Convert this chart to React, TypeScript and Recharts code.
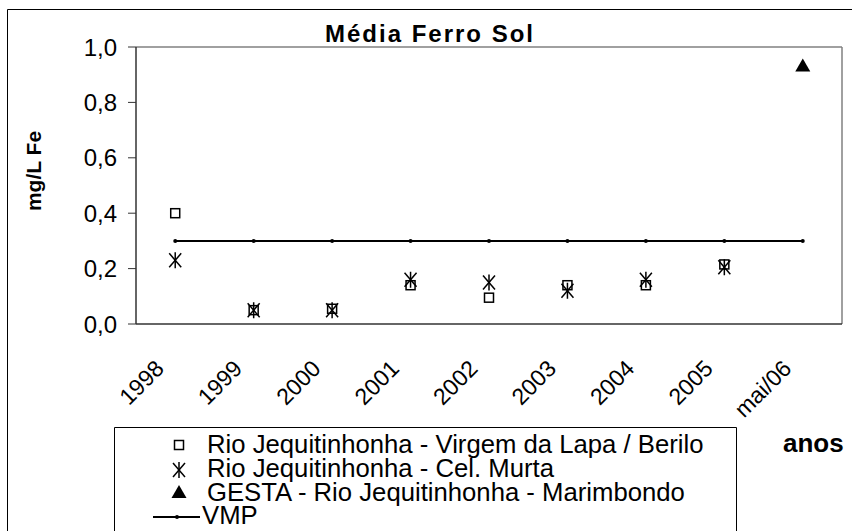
import React from 'react';
import { ComposedChart, XAxis, YAxis, Scatter, Line, Legend, ReferenceLine } from 'recharts';

const categories = ['1998', '1999', '2000', '2001', '2002', '2003', '2004', '2005', 'mai/06'];
const virgemLapa: (number | null)[] = [0.40, 0.05, 0.055, 0.14, 0.095, 0.14, 0.14, 0.215, null];
const celMurta: (number | null)[] = [0.23, 0.05, 0.05, 0.16, 0.15, 0.12, 0.16, 0.205, null];
const gesta: (number | null)[] = [null, null, null, null, null, null, null, null, 0.93];
const vmp: number[] = [0.3, 0.3, 0.3, 0.3, 0.3, 0.3, 0.3, 0.3, 0.3];
const yTicks = [0, 0.2, 0.4, 0.6, 0.8, 1.0];
const seriesNames = [
  'Rio Jequitinhonha - Virgem da Lapa / Berilo',
  'Rio Jequitinhonha - Cel. Murta',
  'GESTA - Rio Jequitinhonha - Marimbondo',
  'VMP',
];
const title = 'Média Ferro Sol';
const yTitle = 'mg/L Fe';
const xTitle = 'anos';

const FONT = "'Liberation Sans', Arial, sans-serif";

const rows = categories.map((c, i) => ({
  x: i + 0.5,
  cat: c,
  sq: virgemLapa[i],
  st: celMurta[i],
  tr: gesta[i],
  vmp: vmp[i],
}));
const boundaries = categories.map((_, i) => i).concat(categories.length);
const centers = categories.map((_, i) => i + 0.5);

const drawSquare = (cx: number, cy: number) => (
  <rect x={cx - 4.5} y={cy - 4.5} width={9} height={9} fill="none" stroke="#000" strokeWidth={1.5} />
);
const drawStar = (cx: number, cy: number) => (
  <g stroke="#000" strokeWidth={1.5}>
    <line x1={cx} y1={cy - 8} x2={cx} y2={cy + 8} />
    <line x1={cx - 6} y1={cy - 7} x2={cx + 6} y2={cy + 7} />
    <line x1={cx + 6} y1={cy - 7} x2={cx - 6} y2={cy + 7} />
  </g>
);
const drawTri = (cx: number, cy: number) => (
  <polygon points={`${cx},${cy - 8} ${cx + 7.5},${cy + 5} ${cx - 7.5},${cy + 5}`} fill="#000" />
);

const SquareMark = ({ cx, cy }: any) => (cx == null || cy == null ? null : drawSquare(cx, cy));
const StarMark = ({ cx, cy }: any) => (cx == null || cy == null ? null : drawStar(cx, cy));
const TriMark = ({ cx, cy }: any) => (cx == null || cy == null ? null : drawTri(cx, cy));
const VmpDot = ({ cx, cy, index }: any) =>
  cx == null || cy == null ? null : <circle key={index} cx={cx} cy={cy} r={2} fill="#000" />;

const XTick = ({ x, y, payload }: any) => {
  const idx = Math.round(payload.value - 0.5);
  return (
    <text
      transform={`translate(${x - 10},${y + 34}) rotate(-45)`}
      textAnchor="end"
      fontSize={23}
      fontFamily={FONT}
      fill="#000"
    >
      {categories[idx]}
    </text>
  );
};

const LW = 623;
const LH = 104;
const rowMarkY = [18, 43, 66, 90];
const rowTextY = [26, 50, 73.5, 97];

const LegendBox = () => (
  <svg width={LW} height={LH} style={{ display: 'block' }}>
    <rect x={0} y={0} width={LW} height={LH} fill="#fff" />
    <path d={`M0.5,${LH} L0.5,0.5 L${LW - 0.5},0.5 L${LW - 0.5},${LH}`} fill="none" stroke="#000" strokeWidth={1} />
    {drawSquare(65, rowMarkY[0])}
    {drawStar(65, rowMarkY[1])}
    {drawTri(65, rowMarkY[2])}
    <line x1={39} y1={rowMarkY[3]} x2={86} y2={rowMarkY[3]} stroke="#000" strokeWidth={2} />
    <circle cx={63} cy={rowMarkY[3]} r={2} fill="#000" />
    {seriesNames.map((n, i) => (
      <text key={n} x={i === 3 ? 88 : 93} y={rowTextY[i]} fontSize={25.7} fontFamily={FONT} fill="#000">
        {n}
      </text>
    ))}
  </svg>
);

export default function App() {
  return (
    <div style={{ position: 'absolute', left: 0, top: 0, width: 852, height: 531, background: '#fff', overflow: 'hidden' }}>
      <ComposedChart width={852} height={531} data={rows} margin={{ top: 47, right: 10, bottom: 137, left: 0 }}>
        <path d="M7.5,531 L7.5,9.5 L852,9.5" fill="none" stroke="#000" strokeWidth={1} />
        <XAxis
          xAxisId="b"
          type="number"
          dataKey="x"
          domain={[0, 9]}
          ticks={boundaries}
          interval={0}
          tick={false}
          tickSize={8}
          height={10}
          axisLine={{ stroke: '#333', strokeWidth: 1.5 }}
          tickLine={{ stroke: '#333' }}
          allowDataOverflow
        />
        <XAxis
          xAxisId="l"
          type="number"
          dataKey="x"
          domain={[0, 9]}
          ticks={centers}
          interval={0}
          axisLine={false}
          tickLine={false}
          tickSize={0}
          tick={<XTick />}
          height={60}
          allowDataOverflow
        />
        <YAxis
          type="number"
          domain={[0, 1]}
          ticks={yTicks}
          interval={0}
          width={136}
          tickSize={8}
          tickMargin={11}
          tickFormatter={(v: number) => v.toFixed(1).replace('.', ',')}
          axisLine={{ stroke: '#333', strokeWidth: 1.5 }}
          tickLine={{ stroke: '#333' }}
          tick={{ fill: '#000', fontSize: 24, fontFamily: FONT }}
        />
        <ReferenceLine xAxisId="b" y={1} stroke="#808080" strokeWidth={1.5} />
        <ReferenceLine xAxisId="b" x={9} stroke="#808080" strokeWidth={1.5} />
        <Line
          xAxisId="b"
          dataKey="vmp"
          name={seriesNames[3]}
          stroke="#000"
          strokeWidth={2}
          dot={<VmpDot />}
          activeDot={false}
          isAnimationActive={false}
        />
        <Scatter xAxisId="b" name={seriesNames[0]} data={rows.filter((r) => r.sq != null)} dataKey="sq" shape={<SquareMark />} isAnimationActive={false} />
        <Scatter xAxisId="b" name={seriesNames[1]} data={rows.filter((r) => r.st != null)} dataKey="st" shape={<StarMark />} isAnimationActive={false} />
        <Scatter xAxisId="b" name={seriesNames[2]} data={rows.filter((r) => r.tr != null)} dataKey="tr" shape={<TriMark />} isAnimationActive={false} />
        <text x={430} y={42} textAnchor="middle" fontSize={24} fontWeight="bold" fontFamily={FONT} letterSpacing={2} fill="#000">
          {title}
        </text>
        <text transform="translate(41,171) rotate(-90)" textAnchor="middle" fontSize={21} fontWeight="bold" fontFamily={FONT} fill="#000">
          {yTitle}
        </text>
        <text x={783} y={452} fontSize={26} fontWeight="bold" fontFamily={FONT} fill="#000">
          {xTitle}
        </text>
        <Legend
          layout="horizontal"
          verticalAlign="middle"
          align="center"
          wrapperStyle={{ left: 114, top: 427, width: LW, height: LH }}
          content={() => <LegendBox />}
        />
      </ComposedChart>
    </div>
  );
}
